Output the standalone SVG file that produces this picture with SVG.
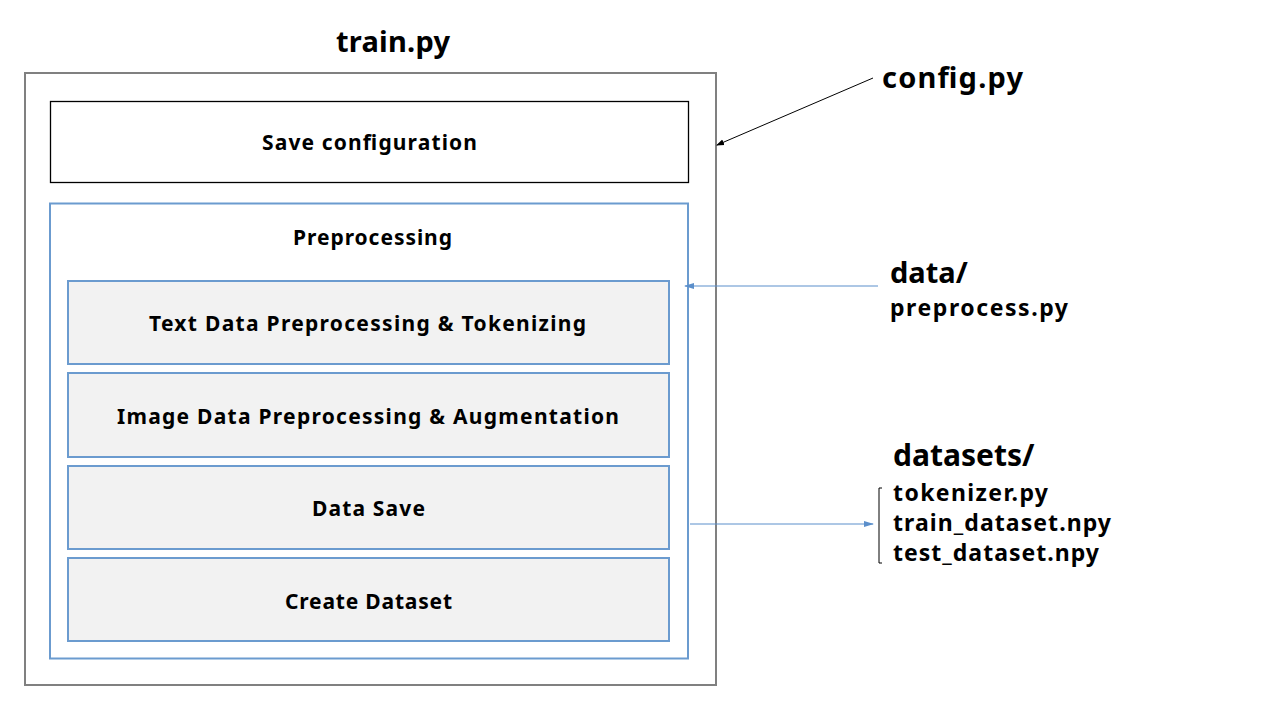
<svg xmlns="http://www.w3.org/2000/svg" width="1280" height="720" viewBox="0 0 1280 720">
<style>
text{font-family:"Noto Sans","Noto Sans CJK KR",sans-serif;font-weight:bold;fill:#000}
.inner{fill:#F2F2F2;stroke:#6B9BCF;stroke-width:2}
.lbl{font-size:21px}
.side{font-size:23px}
.big{font-size:29px}
</style>
<defs>
<marker id="ab" markerWidth="8" markerHeight="8" refX="7" refY="4" orient="auto" markerUnits="userSpaceOnUse"><path d="M0,1 L8,4 L0,7 Z" fill="#000"/></marker>
<marker id="abl" markerWidth="10" markerHeight="8" refX="9" refY="4" orient="auto" markerUnits="userSpaceOnUse"><path d="M0,1 L10,4 L0,7 Z" fill="#5B8FCB"/></marker>
</defs>
<rect width="1280" height="720" fill="#fff"/>
<g id="train">
<rect x="25" y="73" width="691" height="612" fill="none" stroke="#808080" stroke-width="2"/>
<text x="336" y="52" class="big" textLength="114" lengthAdjust="spacing">train.py</text>
</g>
<g id="save">
<rect x="50.5" y="101.5" width="638" height="81" fill="#fff" stroke="#000" stroke-width="1.3"/>
<text x="262" y="150" class="lbl" textLength="215" lengthAdjust="spacing">Save configuration</text>
</g>
<g id="preprocessing">
<rect x="50" y="203.5" width="638" height="455" fill="#fff" stroke="#6B9BCF" stroke-width="2"/>
<text x="293" y="245" class="lbl" textLength="159" lengthAdjust="spacing">Preprocessing</text>
</g>
<g id="text-prep">
<rect x="68" y="281" width="601" height="83" class="inner"/>
<text x="149" y="331" class="lbl" textLength="437" lengthAdjust="spacing">Text Data Preprocessing &amp; Tokenizing</text>
</g>
<g id="image-prep">
<rect x="68" y="373" width="601" height="84" class="inner"/>
<text x="117" y="424" class="lbl" textLength="502" lengthAdjust="spacing">Image Data Preprocessing &amp; Augmentation</text>
</g>
<g id="data-save">
<rect x="68" y="466" width="601" height="83" class="inner"/>
<text x="312" y="516" class="lbl" textLength="113" lengthAdjust="spacing">Data Save</text>
</g>
<g id="create-dataset">
<rect x="68" y="558" width="601" height="83" class="inner"/>
<text x="285" y="609" class="lbl" textLength="167" lengthAdjust="spacing">Create Dataset</text>
</g>
<g id="config">
<text x="882" y="88" class="big" textLength="141" lengthAdjust="spacing">config.py</text>
</g>
<g id="data">
<text x="890" y="283" class="big">data/</text>
<text x="890" y="316" class="side" textLength="178" lengthAdjust="spacing">preprocess.py</text>
</g>
<g id="datasets">
<text x="893" y="466" style="font-size:30px">datasets/</text>
<text x="893" y="501" class="side" textLength="155" lengthAdjust="spacing">tokenizer.py</text>
<text x="893" y="531" class="side" textLength="218" lengthAdjust="spacing">train_dataset.npy</text>
<text x="893" y="561" class="side" textLength="206" lengthAdjust="spacing">test_dataset.npy</text>
<path d="M882,488 H879 V563 H882" fill="none" stroke="#000" stroke-width="1"/>
</g>
<g id="connectors">
<line x1="873" y1="78" x2="717" y2="145" stroke="#000" stroke-width="1" marker-end="url(#ab)"/>
<line x1="878" y1="286" x2="685" y2="286" stroke="#5B8FCB" stroke-width="1" marker-end="url(#abl)"/>
<line x1="690" y1="524" x2="873" y2="524" stroke="#5B8FCB" stroke-width="1" marker-end="url(#abl)"/>
</g>
</svg>
